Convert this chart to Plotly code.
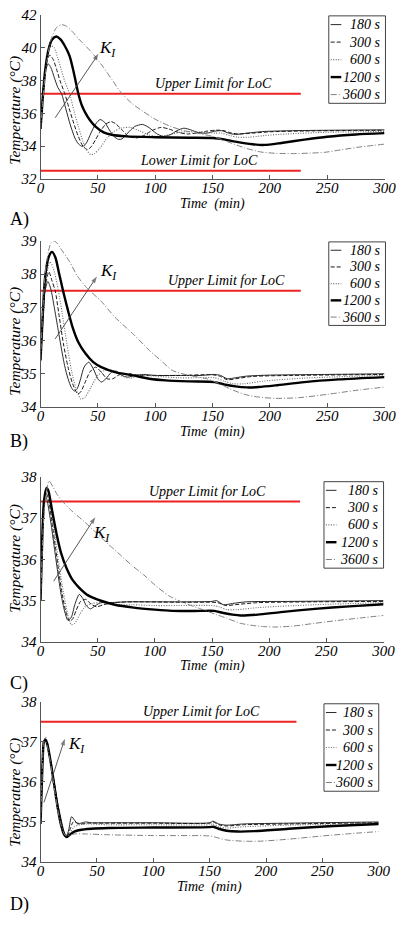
import plotly.graph_objects as go

# ---------------- DATA ----------------
SERIES_NAMES = ["180 s", "300 s", "600 s", "1200 s", "3600 s"]
PANEL_LABELS = ["A)", "B)", "C)", "D)"]
X_TICKS = [0, 50, 100, 150, 200, 250, 300]
A_Y_TICKS = [32, 34, 36, 38, 40, 42]
B_Y_TICKS = [34, 35, 36, 37, 38, 39]
C_Y_TICKS = [34, 35, 36, 37, 38]
D_Y_TICKS = [34, 35, 36, 37, 38]
A_UPPER_LIMIT = 37.2
A_LOWER_LIMIT = 32.5
B_UPPER_LIMIT = 37.5
C_UPPER_LIMIT = 37.4
D_UPPER_LIMIT = 37.5
LIMIT_TIME = [0, 227]

# Panel A
A_180_TIME = [0, 2, 4, 6.7, 9, 12, 15, 18.4, 22, 26, 30, 33, 36.6, 40, 44, 48, 52, 56, 60, 64, 68, 71, 76, 82, 89, 95, 101, 107, 113, 119, 125, 131, 138, 145, 152, 158, 164, 170, 180, 195, 220, 260, 300]
A_180_TEMP = [35.05, 37.2, 38.5, 39.03, 38.8, 38.2, 37.6, 37.2, 36.3, 35.3, 34.5, 34.15, 33.98, 34.2, 34.8, 35.35, 35.63, 35.45, 35.0, 34.6, 34.42, 34.45, 34.8, 35.2, 35.33, 35.12, 34.78, 34.6, 34.7, 34.95, 35.1, 35.0, 34.82, 34.8, 34.92, 34.95, 34.8, 34.72, 34.8, 34.9, 34.95, 34.98, 35.0]
A_300_TIME = [0, 2, 4, 6, 8.1, 11, 14, 17, 21.2, 25, 29, 33, 37, 40.8, 44, 48, 52, 57, 61.7, 66, 71, 76, 83, 90, 97, 105, 112, 120, 128, 136, 145, 153, 160, 166, 172, 185, 200, 230, 270, 300]
A_300_TEMP = [35.05, 37.0, 38.5, 39.3, 39.56, 39.3, 38.7, 38.0, 37.2, 36.3, 35.4, 34.6, 34.0, 33.8, 33.95, 34.4, 34.9, 35.35, 35.5, 35.35, 35.0, 34.65, 34.5, 34.65, 34.95, 35.15, 35.05, 34.85, 34.75, 34.8, 34.92, 34.98, 34.95, 34.82, 34.75, 34.8, 34.88, 34.93, 34.96, 34.97]
A_600_TIME = [0, 2, 4, 6, 9.2, 12, 15, 18, 21, 25.4, 29, 33, 37, 40, 43.6, 47, 52, 58, 64, 70, 78, 86, 94, 102, 112, 122, 132, 142, 152, 158, 165, 172, 182, 195, 215, 250, 300]
A_600_TEMP = [35.05, 36.9, 38.4, 39.5, 40.12, 40.0, 39.4, 38.7, 38.0, 37.2, 36.2, 35.2, 34.3, 33.8, 33.5, 33.55, 33.9, 34.5, 34.9, 35.1, 35.15, 34.95, 34.7, 34.6, 34.7, 34.85, 34.9, 34.85, 34.8, 34.8, 34.65, 34.55, 34.55, 34.65, 34.75, 34.85, 34.9]
A_1200_TIME = [0, 2, 4, 7, 10, 13.7, 17, 21, 25.4, 29, 33, 36, 39, 43, 48, 55, 62, 75, 100, 130, 150, 160, 170, 185, 195, 210, 230, 250, 275, 300]
A_1200_TEMP = [35.05, 37.0, 38.6, 39.9, 40.5, 40.7, 40.55, 40.15, 39.5, 38.5, 37.2, 36.5, 36.05, 35.6, 35.2, 34.85, 34.7, 34.6, 34.55, 34.52, 34.5, 34.42, 34.28, 34.12, 34.08, 34.2, 34.4, 34.58, 34.72, 34.8]
A_3600_TIME = [0, 2, 4, 7, 10, 14, 18, 22, 27, 34, 45, 55, 62, 70, 80, 90, 100, 112, 125, 136, 150, 164, 178, 192, 205, 220, 235, 248, 262, 276, 290, 300]
A_3600_TEMP = [35.05, 36.8, 38.3, 39.8, 40.7, 41.25, 41.42, 41.35, 41.05, 40.5, 39.7, 38.8, 38.1, 37.3, 36.6, 36.1, 35.65, 35.25, 34.95, 34.8, 34.6, 34.25, 33.9, 33.65, 33.57, 33.55, 33.58, 33.63, 33.78, 33.93, 34.05, 34.13]

# Panel B
B_180_TIME = [0, 2, 4, 6.4, 9, 12, 15, 18, 21, 24, 27, 29.6, 32, 35, 38, 42, 46, 50, 53, 57, 62, 66, 71, 76, 82, 90, 100, 120, 140, 152, 157, 163, 170, 180, 200, 250, 300]
B_180_TEMP = [35.4, 36.8, 37.5, 37.78, 37.55, 37.0, 36.4, 35.8, 35.25, 34.85, 34.58, 34.48, 34.55, 34.85, 35.2, 35.35, 35.15, 34.85, 34.75, 34.85, 35.05, 35.08, 34.95, 34.9, 34.95, 34.98, 34.95, 34.95, 34.95, 34.98, 34.95, 34.85, 34.88, 34.93, 34.96, 34.98, 35.0]
B_300_TIME = [0, 2, 4, 7.3, 10, 12.8, 16, 20, 24, 28, 32.4, 35, 39, 43, 48, 53, 58, 63, 70, 78, 86, 95, 120, 150, 156, 163, 170, 185, 220, 300]
B_300_TEMP = [35.4, 36.6, 37.6, 38.07, 37.8, 37.5, 36.8, 35.9, 35.2, 34.7, 34.4, 34.45, 34.75, 35.05, 35.2, 35.05, 34.85, 34.85, 35.0, 35.0, 34.95, 34.95, 34.95, 34.97, 34.93, 34.82, 34.85, 34.92, 34.95, 34.98]
B_600_TIME = [0, 2, 4, 8.1, 11, 15.6, 19, 23, 27, 31, 35.2, 39, 44, 50, 56, 63, 70, 78, 88, 100, 120, 140, 152, 160, 168, 178, 195, 230, 300]
B_600_TEMP = [35.4, 36.5, 37.6, 38.37, 38.2, 37.5, 36.8, 35.9, 35.1, 34.55, 34.24, 34.3, 34.6, 34.95, 35.1, 35.1, 34.95, 34.87, 34.95, 34.93, 34.88, 34.88, 34.88, 34.78, 34.7, 34.7, 34.78, 34.87, 34.95]
B_1200_TIME = [0, 2, 4, 7, 10, 13, 16, 19.8, 24, 28, 33, 39.4, 46, 53, 65, 81, 95, 109, 130, 152, 160, 170, 180, 190, 205, 230, 260, 300]
B_1200_TEMP = [35.4, 36.8, 37.9, 38.5, 38.67, 38.5, 38.05, 37.48, 36.9, 36.4, 35.95, 35.6, 35.35, 35.2, 35.05, 34.95, 34.85, 34.8, 34.77, 34.75, 34.68, 34.62, 34.59, 34.6, 34.65, 34.75, 34.83, 34.9]
B_3600_TIME = [0, 2, 4, 7, 9, 11.5, 14, 18, 25.4, 32, 40, 53, 65, 81, 95, 105, 115, 130, 145, 155, 165, 178, 190, 205, 225, 250, 275, 300]
B_3600_TEMP = [35.4, 36.9, 38.0, 38.7, 38.93, 39.0, 38.95, 38.75, 38.37, 37.95, 37.6, 37.18, 36.7, 36.19, 35.7, 35.4, 35.1, 34.95, 34.85, 34.72, 34.55, 34.38, 34.3, 34.26, 34.28, 34.38, 34.5, 34.6]

# Panel C
C_180_TIME = [0, 1.5, 3, 4.5, 6, 9, 12, 15, 18, 21, 24, 27, 30, 33.9, 37, 40, 43.7, 48, 53, 60, 75, 100, 130, 150, 154, 160, 168, 180, 220, 300]
C_180_TEMP = [35.0, 36.5, 37.4, 37.55, 37.4, 36.9, 36.3, 35.7, 35.15, 34.75, 34.52, 34.6, 34.9, 35.15, 35.05, 34.88, 34.8, 34.88, 34.95, 34.95, 34.97, 34.97, 34.97, 34.98, 35.0, 34.9, 34.93, 34.97, 34.98, 35.0]
C_300_TIME = [0, 1.5, 3, 5, 7, 10, 13, 16, 19, 22, 25.5, 28, 31, 35, 39.5, 44, 49, 55, 65, 80, 120, 150, 155, 162, 170, 190, 240, 300]
C_300_TEMP = [35.0, 36.4, 37.3, 37.6, 37.45, 36.9, 36.3, 35.7, 35.15, 34.75, 34.5, 34.55, 34.75, 34.98, 35.03, 34.92, 34.85, 34.9, 34.95, 34.97, 34.96, 34.96, 34.95, 34.88, 34.9, 34.95, 34.97, 34.98]
C_600_TIME = [0, 1.5, 3, 5, 7, 10, 13, 16, 20, 24, 27, 30, 34, 39, 45, 52, 60, 70, 80, 100, 120, 150, 156, 163, 172, 190, 240, 300]
C_600_TEMP = [35.0, 36.3, 37.2, 37.6, 37.55, 37.05, 36.5, 35.9, 35.2, 34.65, 34.42, 34.45, 34.65, 34.85, 34.93, 34.95, 34.93, 34.9, 34.9, 34.88, 34.88, 34.88, 34.85, 34.78, 34.78, 34.83, 34.9, 34.95]
C_1200_TIME = [0, 1.5, 3, 5.3, 7, 10, 14.3, 18, 22.7, 28, 33.9, 42, 53.5, 65, 81.5, 100, 115, 140, 152, 160, 168, 175, 190, 210, 240, 270, 300]
C_1200_TEMP = [35.0, 36.5, 37.4, 37.73, 37.65, 37.2, 36.58, 36.15, 35.79, 35.5, 35.31, 35.12, 34.99, 34.9, 34.83, 34.78, 34.75, 34.75, 34.75, 34.7, 34.66, 34.64, 34.66, 34.72, 34.8, 34.86, 34.91]
C_3600_TIME = [0, 1.5, 3, 5, 7.5, 11, 15, 20, 27, 38, 48, 58, 70, 80, 90, 100, 112, 125, 140, 153, 163, 175, 185, 195, 205, 220, 240, 260, 280, 300]
C_3600_TEMP = [35.0, 36.2, 37.1, 37.6, 37.9, 37.75, 37.55, 37.38, 37.18, 36.92, 36.66, 36.4, 36.1, 35.85, 35.63, 35.38, 35.12, 34.95, 34.8, 34.67, 34.57, 34.45, 34.4, 34.37, 34.36, 34.38, 34.45, 34.52, 34.58, 34.64]

# Panel D
D_180_TIME = [0, 1, 2, 3, 4.5, 6, 9, 12, 15, 18, 21, 23, 25, 27.5, 30, 33, 36, 40, 45, 60, 100, 150, 153, 158, 165, 180, 220, 300]
D_180_TEMP = [34.95, 35.8, 36.6, 37.0, 37.05, 36.9, 36.5, 36.0, 35.5, 35.1, 34.75, 34.65, 34.8, 35.13, 35.05, 34.95, 34.97, 35.0, 34.98, 34.98, 34.98, 34.98, 35.02, 34.95, 34.92, 34.95, 34.97, 35.0]
D_300_TIME = [0, 1, 2, 3, 4.5, 6, 9, 12, 15, 18, 21, 23.5, 26, 29, 32, 36, 42, 60, 100, 150, 153, 158, 165, 180, 220, 300]
D_300_TEMP = [34.95, 35.8, 36.6, 37.0, 37.08, 36.95, 36.5, 36.0, 35.45, 35.05, 34.72, 34.65, 34.8, 35.0, 34.98, 34.95, 34.97, 34.97, 34.97, 34.97, 35.0, 34.93, 34.9, 34.93, 34.95, 34.98]
D_600_TIME = [0, 1, 2, 3, 4.5, 6, 9, 12, 15, 18, 21, 23.5, 26, 30, 35, 42, 60, 100, 150, 153, 158, 165, 180, 220, 300]
D_600_TEMP = [34.95, 35.8, 36.6, 37.05, 37.12, 37.0, 36.55, 36.0, 35.45, 35.0, 34.7, 34.63, 34.72, 34.88, 34.93, 34.95, 34.93, 34.93, 34.93, 34.95, 34.88, 34.85, 34.88, 34.92, 34.97]
D_1200_TIME = [0, 1, 2, 3, 4.5, 6, 9, 12, 15, 18, 21, 23, 26, 30, 35, 45, 60, 100, 150, 153, 158, 165, 175, 190, 220, 260, 300]
D_1200_TEMP = [34.95, 35.8, 36.6, 37.0, 37.05, 36.95, 36.5, 35.95, 35.4, 34.95, 34.68, 34.62, 34.68, 34.76, 34.8, 34.83, 34.85, 34.86, 34.87, 34.88, 34.83, 34.78, 34.76, 34.77, 34.83, 34.9, 34.95]
D_3600_TIME = [0, 1, 2, 3, 4.5, 6, 9, 12, 15, 18, 21, 23, 26, 30, 40, 60, 100, 150, 155, 165, 180, 195, 220, 250, 280, 300]
D_3600_TEMP = [34.95, 35.8, 36.6, 37.0, 37.02, 36.9, 36.45, 35.9, 35.35, 34.95, 34.7, 34.65, 34.67, 34.7, 34.7, 34.68, 34.66, 34.65, 34.62, 34.55, 34.52, 34.52, 34.57, 34.65, 34.72, 34.76]

# K_I arrows (tail time, tail temp, head time, head temp, label time, label temp)
A_ARROW = [12.8, 35.74, 50.6, 39.64, 58, 39.95]
B_ARROW = [12.8, 36.05, 49.2, 37.93, 59, 38.07]
C_ARROW = [11.5, 35.47, 47.9, 37.02, 53.5, 36.62]
D_ARROW = [3.1, 35.49, 21.6, 37.08, 31.5, 36.92]

# ---------------- LAYOUT / STYLE ----------------
W, H = 409, 927
SERIF = "Liberation Serif"


def fx(px):
    return px / W


def fy(py):
    return 1 - py / H


STYLES = [
    dict(color="#2a2a2a", width=1.0, dash="solid"),
    dict(color="#1a1a1a", width=1.0, dash="4px,2px"),
    dict(color="#6a6a6a", width=1.1, dash="1px,1.5px"),
    dict(color="#000000", width=2.4, dash="solid"),
    dict(color="#808080", width=1.0, dash="6px,2px,1px,2px"),
]

panels = [
    dict(ax="", series=[(A_180_TIME, A_180_TEMP), (A_300_TIME, A_300_TEMP), (A_600_TIME, A_600_TEMP),
                        (A_1200_TIME, A_1200_TEMP), (A_3600_TIME, A_3600_TEMP)],
         yrange=[32, 42], yticks=A_Y_TICKS, ypx=(7.3, 174), xpx=(38, 396),
         limits=[(A_UPPER_LIMIT, "Upper Limit for LoC", 151), (A_LOWER_LIMIT, "Lower Limit for LoC", 138)],
         arrow=A_ARROW, legend=(338, 397, 8, 97), ylab_y=104, letter_y=215),
    dict(ax="2", series=[(B_180_TIME, B_180_TEMP), (B_300_TIME, B_300_TEMP), (B_600_TIME, B_600_TEMP),
                         (B_1200_TIME, B_1200_TEMP), (B_3600_TIME, B_3600_TEMP)],
         yrange=[34, 39], yticks=B_Y_TICKS, ypx=(237, 406), xpx=(38, 396),
         limits=[(B_UPPER_LIMIT, "Upper Limit for LoC", 162)],
         arrow=B_ARROW, legend=(338, 397, 238, 323), ylab_y=339, letter_y=441),
    dict(ax="3", series=[(C_180_TIME, C_180_TEMP), (C_300_TIME, C_300_TEMP), (C_600_TIME, C_600_TEMP),
                         (C_1200_TIME, C_1200_TEMP), (C_3600_TIME, C_3600_TEMP)],
         yrange=[34, 38], yticks=C_Y_TICKS, ypx=(477, 645), xpx=(38, 395),
         limits=[(C_UPPER_LIMIT, "Upper Limit for LoC", 146)],
         arrow=C_ARROW, legend=(333, 395, 482, 570), ylab_y=560, letter_y=687),
    dict(ax="4", series=[(D_180_TIME, D_180_TEMP), (D_300_TIME, D_300_TEMP), (D_600_TIME, D_600_TEMP),
                         (D_1200_TIME, D_1200_TEMP), (D_3600_TIME, D_3600_TEMP)],
         yrange=[34, 38], yticks=D_Y_TICKS, ypx=(706, 869), xpx=(38, 390),
         limits=[(D_UPPER_LIMIT, "Upper Limit for LoC", 143)],
         arrow=D_ARROW, legend=(333, 390, 708, 797), ylab_y=798, letter_y=912),
]

XLAB_OFFSET = 25  # px below the x axis line

fig = go.Figure()
layout = dict(
    width=W, height=H, autosize=False,
    margin=dict(l=0, r=0, t=0, b=0),
    paper_bgcolor="white", plot_bgcolor="white",
    showlegend=False,
    font=dict(family=SERIF, size=14, color="black"),
)
annotations = []
shapes = []

for i, p in enumerate(panels):
    xa = "x" + p["ax"]
    ya = "y" + p["ax"]
    # red limit lines
    for (lim, txt, tc) in p["limits"]:
        fig.add_trace(go.Scatter(x=LIMIT_TIME, y=[lim, lim], mode="lines",
                                 line=dict(color="#ee2222", width=2), xaxis=xa, yaxis=ya,
                                 hoverinfo="skip"))
        annotations.append(dict(x=tc, y=lim, xref=xa, yref=ya, text=txt, showarrow=False,
                                yanchor="bottom", yshift=1,
                                font=dict(family=SERIF, size=14, style="italic", color="black")))
    # curves
    for (t, T), name, st in zip(p["series"], SERIES_NAMES, STYLES):
        fig.add_trace(go.Scatter(x=t, y=T, mode="lines", name=name,
                                 line=dict(color=st["color"], width=st["width"], dash=st["dash"],
                                           shape="spline", smoothing=0.7),
                                 xaxis=xa, yaxis=ya))
    # axes
    x0, x1 = p["xpx"]
    yt, yb = p["ypx"]
    axstyle = dict(showline=True, linecolor="#555555", linewidth=1, showgrid=False, zeroline=False,
                   ticks="inside", ticklen=4, tickcolor="#555555",
                   tickfont=dict(family=SERIF, size=15, style="italic", color="black"))
    layout["xaxis" + p["ax"]] = dict(domain=[fx(x0), fx(x1)], range=[0, 300], tickvals=X_TICKS,
                                     anchor=ya, ticklabelstandoff=-5, **axstyle)
    layout["yaxis" + p["ax"]] = dict(domain=[fy(yb), fy(yt)], range=p["yrange"], tickvals=p["yticks"],
                                     anchor=xa, **axstyle)
    # K_I arrow (line with an arrow marker at its head) and its label
    tx, ty, hx, hy, lx, ly = p["arrow"]
    fig.add_trace(go.Scatter(x=[tx, hx], y=[ty, hy], mode="lines+markers",
                             line=dict(color="#444444", width=0.9),
                             marker=dict(symbol=["circle", "arrow"], size=[0, 7], angleref="previous",
                                         color="#444444", line=dict(width=0)),
                             xaxis=xa, yaxis=ya, hoverinfo="skip"))
    annotations.append(dict(x=lx, y=ly, xref=xa, yref=ya, text="K<sub>I</sub>", showarrow=False,
                            font=dict(family=SERIF, size=17, style="italic", color="black")))
    # axis titles and panel letter
    annotations.append(dict(x=fx((x0 + x1) / 2), y=fy(yb + XLAB_OFFSET), xref="paper", yref="paper",
                            text="Time  (min)", showarrow=False, xanchor="center", yanchor="middle",
                            font=dict(family=SERIF, size=14, style="italic", color="black")))
    annotations.append(dict(x=fx(12), y=fy(p["ylab_y"]), xref="paper", yref="paper",
                            text="Temperature (°C)", textangle=-90, showarrow=False,
                            xanchor="center", yanchor="middle",
                            font=dict(family=SERIF, size=15.5, style="italic", color="black")))
    annotations.append(dict(x=fx(4), y=fy(p["letter_y"]), xref="paper", yref="paper",
                            text=PANEL_LABELS[i], showarrow=False, xanchor="left", yanchor="middle",
                            font=dict(family=SERIF, size=18, color="black")))
    # legend box (drawn)
    lx0, lx1, ly0, ly1 = p["legend"]
    shapes.append(dict(type="rect", xref="paper", yref="paper", x0=fx(lx0), x1=fx(lx1),
                       y0=fy(ly1), y1=fy(ly0), line=dict(color="#444444", width=1),
                       fillcolor="white", layer="above"))
    step = (ly1 - ly0) / 5.0
    for k, (name, st) in enumerate(zip(SERIES_NAMES, STYLES)):
        yc = ly0 + step * (k + 0.5)
        shapes.append(dict(type="line", xref="paper", yref="paper", x0=fx(lx0 + 2), x1=fx(lx0 + 13),
                           y0=fy(yc), y1=fy(yc), layer="above",
                           line=dict(color=st["color"], width=st["width"], dash=st["dash"])))
        annotations.append(dict(x=fx(lx1 - 3), y=fy(yc), xref="paper", yref="paper", text=name,
                                showarrow=False, xanchor="right", yanchor="middle",
                                font=dict(family=SERIF, size=14, style="italic", color="black")))

layout["annotations"] = annotations
layout["shapes"] = shapes
fig.update_layout(**layout)
fig.write_html("out.html")
